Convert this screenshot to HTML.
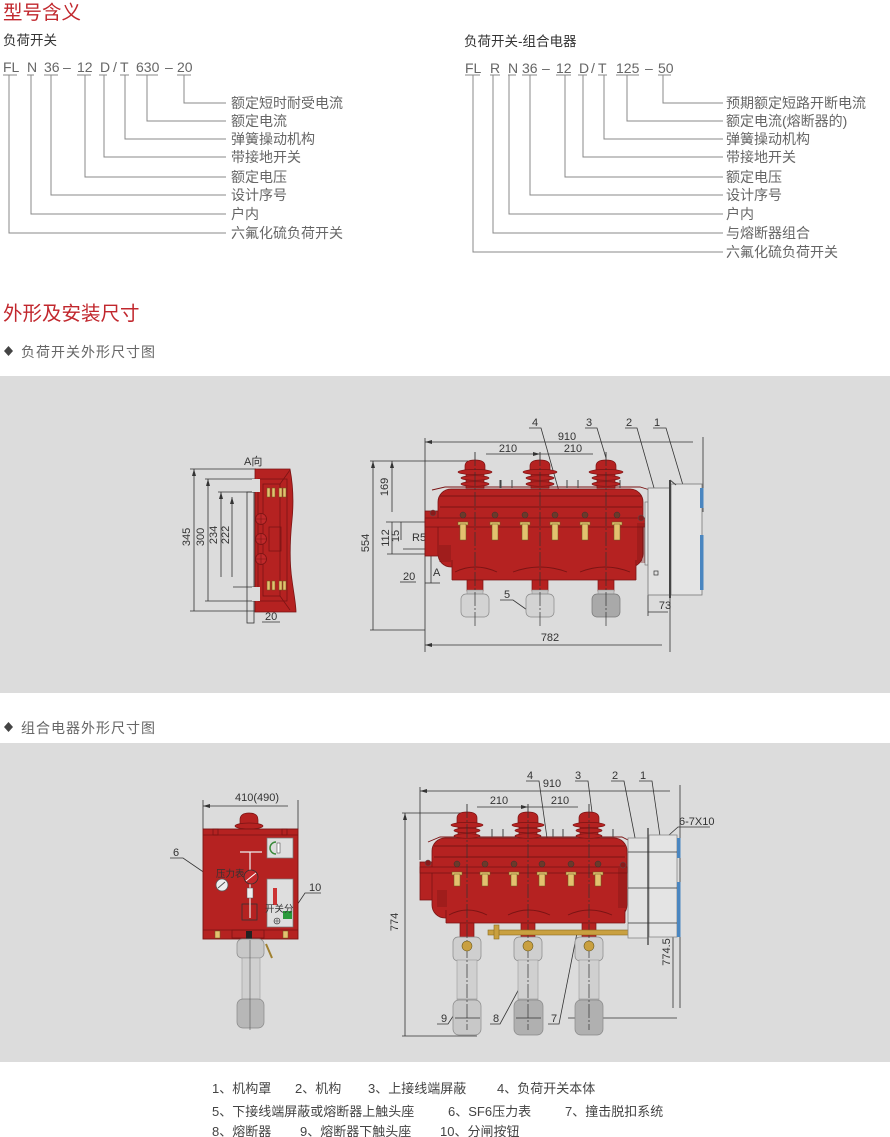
<!DOCTYPE html>
<html><head><meta charset="utf-8">
<style>
html,body{margin:0;padding:0;background:#fff;}
svg{display:block;}
text{font-family:"Liberation Sans","Noto Sans CJK SC",sans-serif;}
</style></head>
<body>
<svg width="890" height="1137" viewBox="0 0 890 1137" xmlns="http://www.w3.org/2000/svg">
<defs>
<marker id="ar" markerWidth="7" markerHeight="4" refX="7" refY="2" orient="auto-start-reverse" markerUnits="userSpaceOnUse"><path d="M0,0 L7,2 L0,4 z" fill="#333"/></marker>
</defs>

<!-- ===== TOP: 型号含义 ===== -->
<text x="3" y="19" font-size="19.5" fill="#c1272d">型号含义</text>
<text x="3" y="45" font-size="13.5" fill="#333">负荷开关</text>
<g font-size="14" fill="#666">
<text x="3" y="72">FL</text><text x="27" y="72">N</text><text x="44" y="72">36</text><text x="63" y="72">–</text>
<text x="77" y="72">12</text><text x="100" y="72">D</text><text x="113" y="72">/</text><text x="120" y="72">T</text>
<text x="136" y="72">630</text><text x="165" y="72">–</text><text x="177" y="72">20</text>
</g>
<g stroke="#888" stroke-width="1" fill="none">
<path d="M3,75H17M27,75H34M44,75H58M77,75H91M99,75H107M120,75H129M136,75H158M177,75H191"/>
<path d="M184,75V103H226M147,75V121H226M125,75V139H226M104,75V157H226M85,75V177H226M51,75V195H226M31,75V214H226M9,75V233H226"/>
</g>
<g font-size="14" fill="#666">
<text x="231" y="108">额定短时耐受电流</text>
<text x="231" y="126">额定电流</text>
<text x="231" y="144">弹簧操动机构</text>
<text x="231" y="162">带接地开关</text>
<text x="231" y="182">额定电压</text>
<text x="231" y="200">设计序号</text>
<text x="231" y="219">户内</text>
<text x="231" y="238">六氟化硫负荷开关</text>
</g>

<text x="464" y="46" font-size="13.5" fill="#333">负荷开关-组合电器</text>
<g font-size="14" fill="#666">
<text x="465" y="73">FL</text><text x="490" y="73">R</text><text x="508" y="73">N</text><text x="522" y="73">36</text>
<text x="542" y="73">–</text><text x="556" y="73">12</text><text x="579" y="73">D</text><text x="591" y="73">/</text>
<text x="598" y="73">T</text><text x="616" y="73">125</text><text x="645" y="73">–</text><text x="658" y="73">50</text>
</g>
<g stroke="#888" stroke-width="1" fill="none">
<path d="M465,75H480M490,75H500M508,75H516M522,75H537M556,75H571M578,75H587M598,75H607M616,75H639M658,75H671"/>
<path d="M663,75V103H723M627,75V121H723M604,75V139H723M583,75V157H723M565,75V177H723M530,75V195H723M509,75V214H723M493,75V233H723M473,75V252H723"/>
</g>
<g font-size="14" fill="#666">
<text x="726" y="108">预期额定短路开断电流</text>
<text x="726" y="126">额定电流(熔断器的)</text>
<text x="726" y="144">弹簧操动机构</text>
<text x="726" y="162">带接地开关</text>
<text x="726" y="182">额定电压</text>
<text x="726" y="200">设计序号</text>
<text x="726" y="219">户内</text>
<text x="726" y="238">与熔断器组合</text>
<text x="726" y="257">六氟化硫负荷开关</text>
</g>

<!-- ===== 外形及安装尺寸 ===== -->
<text x="3" y="320" font-size="19.5" fill="#c1272d">外形及安装尺寸</text>
<path d="M8.5,346 L13,351 L8.5,356 L4,351 Z" fill="#444"/>
<text x="21" y="357" font-size="14" fill="#666" letter-spacing="1">负荷开关外形尺寸图</text>

<rect x="0" y="376" width="890" height="317" fill="#dcdcdc"/>

<path d="M8.5,722 L13,727 L8.5,732 L4,727 Z" fill="#444"/>
<text x="21" y="733" font-size="14" fill="#666" letter-spacing="1">组合电器外形尺寸图</text>

<rect x="0" y="743" width="890" height="319" fill="#dcdcdc"/>

<!-- ===== PANEL 1: side view ===== -->
<text x="244" y="465" font-size="11" fill="#333">A向</text>
<g stroke="#333" stroke-width="0.8" fill="none">
<line x1="194" y1="469" x2="194" y2="611" marker-start="url(#ar)"/>
<line x1="190" y1="469" x2="256" y2="469"/>
<line x1="190" y1="611" x2="256" y2="611"/>
<line x1="208" y1="479" x2="208" y2="601" marker-start="url(#ar)"/>
<line x1="205" y1="479" x2="256" y2="479"/>
<line x1="205" y1="601" x2="256" y2="601"/>
<line x1="221" y1="492" x2="221" y2="577" marker-start="url(#ar)"/>
<line x1="218" y1="492" x2="258" y2="492"/>
<line x1="232" y1="497" x2="232" y2="577" marker-start="url(#ar)"/>
<line x1="233" y1="587" x2="258" y2="587"/>
<rect x="247" y="492" width="7" height="131" stroke="#333"/>
<line x1="262" y1="622" x2="280" y2="622"/>
</g>
<g font-size="11" fill="#333">
<text transform="translate(190,537) rotate(-90)" text-anchor="middle">345</text>
<text transform="translate(204,537) rotate(-90)" text-anchor="middle">300</text>
<text transform="translate(217,535) rotate(-90)" text-anchor="middle">234</text>
<text transform="translate(229,535) rotate(-90)" text-anchor="middle">222</text>
<text x="265" y="620">20</text>
</g>
<path d="M255,469 L290,469 C293,485 294,500 292,520 C290,540 289,560 292,580 C294,595 296,605 296,612 L255,612 Z" fill="#b52221" stroke="#7a1414" stroke-width="0.8"/>
<g stroke="#7a1414" stroke-width="0.8" fill="none">
<rect x="258" y="479" width="29" height="122"/>
<rect x="263" y="484" width="17" height="112"/>
<rect x="269" y="527" width="12" height="24"/>
<line x1="280" y1="484" x2="290" y2="470"/>
<line x1="280" y1="596" x2="290" y2="610"/>
</g>
<rect x="252" y="479" width="8" height="13" fill="#dcdcdc"/>
<rect x="252" y="587" width="8" height="14" fill="#dcdcdc"/>
<g fill="#e3c16f" stroke="#6b5a20" stroke-width="0.5">
<rect x="267" y="488" width="3" height="9"/><rect x="272" y="488" width="3" height="9"/><rect x="279" y="488" width="3" height="9"/><rect x="283" y="488" width="3" height="9"/>
<rect x="267" y="581" width="3" height="9"/><rect x="272" y="581" width="3" height="9"/><rect x="279" y="581" width="3" height="9"/><rect x="283" y="581" width="3" height="9"/>
</g>
<g fill="#c0282a" stroke="#7a1414" stroke-width="0.8">
<circle cx="261" cy="519" r="5.5"/><circle cx="261" cy="539" r="5.5"/><circle cx="261" cy="559" r="5.5"/>
</g>
<g stroke="#7a1414" stroke-width="0.6"><path d="M255,519H267M261,513V525M255,539H267M261,533V545M255,559H267M261,553V565"/></g>

<!-- ===== PANEL 1: main view ===== -->
<g stroke="#333" stroke-width="0.8" fill="none">
<line x1="425" y1="442" x2="693" y2="442" marker-start="url(#ar)"/>
<line x1="425" y1="438" x2="425" y2="652"/>
<line x1="703" y1="437" x2="703" y2="512"/>
<line x1="486" y1="454" x2="540" y2="454" marker-end="url(#ar)"/>
<line x1="593" y1="454" x2="540" y2="454"/>
<line x1="373" y1="461" x2="373" y2="630" marker-start="url(#ar)"/>
<line x1="370" y1="461" x2="468" y2="461"/>
<line x1="370" y1="630" x2="425" y2="630"/>
<line x1="392" y1="461" x2="392" y2="512" marker-start="url(#ar)"/>
<line x1="386" y1="522" x2="432" y2="522"/>
<line x1="392" y1="522" x2="392" y2="554"/>
<line x1="387" y1="554" x2="430" y2="554"/>
<line x1="401" y1="522" x2="401" y2="540"/>
<line x1="403" y1="549" x2="430" y2="549"/>
<line x1="400" y1="582" x2="416" y2="582"/>
<line x1="431" y1="555" x2="431" y2="583"/>
<line x1="425" y1="583" x2="440" y2="583"/>
<line x1="425" y1="645" x2="662" y2="645" marker-start="url(#ar)"/>
<line x1="670" y1="598" x2="670" y2="652"/>
<line x1="648" y1="595" x2="648" y2="616"/>
<line x1="648" y1="612" x2="668" y2="612"/>
<!-- leaders -->
<path d="M529,428H541L560,495"/>
<path d="M585,428H597L606,458"/>
<path d="M625,428H637L658,502"/>
<path d="M653,428H666L688,502"/>
<path d="M500,600H513L530,612"/>
</g>
<g font-size="11" fill="#333">
<text x="567" y="440" text-anchor="middle">910</text>
<text x="508" y="452" text-anchor="middle">210</text>
<text x="573" y="452" text-anchor="middle">210</text>
<text transform="translate(369,543) rotate(-90)" text-anchor="middle">554</text>
<text transform="translate(388,487) rotate(-90)" text-anchor="middle">169</text>
<text transform="translate(389,538) rotate(-90)" text-anchor="middle">112</text>
<text transform="translate(399,536) rotate(-90)" text-anchor="middle">15</text>
<text x="412" y="541">R5</text>
<text x="403" y="580">20</text>
<text x="433" y="576">A</text>
<text x="550" y="641" text-anchor="middle">782</text>
<text x="665" y="609" text-anchor="middle">73</text>
<text x="532" y="426">4</text>
<text x="586" y="426">3</text>
<text x="626" y="426">2</text>
<text x="654" y="426">1</text>
<text x="504" y="598">5</text>
</g>

<!-- tank panel 1 -->
<g stroke="#7a1414" stroke-width="0.8">
<rect x="425" y="511" width="15" height="45" fill="#b52221"/>
<rect x="438" y="489" width="205" height="78" rx="13" fill="#b52221"/>
<rect x="452" y="555" width="184" height="25" fill="#b52221" stroke="none"/>
<line x1="452" y1="580" x2="636" y2="580"/>
<line x1="452" y1="560" x2="452" y2="580"/>
<line x1="636" y1="560" x2="636" y2="580"/>
</g>
<g fill="none" stroke="#7a1414" stroke-width="0.9">
<path d="M455,572 Q475,562 497,572 M513,572 Q540,562 567,572 M580,572 Q605,562 630,572"/>
<path d="M432,490 L445,487 L640,487 L650,490"/>
<line x1="440" y1="496" x2="642" y2="496"/>
<line x1="440" y1="507" x2="642" y2="507"/>
</g>
<rect x="425" y="518" width="222" height="9" fill="#b52221" stroke="#7a1414" stroke-width="0.8"/>
<g stroke="#7a1414" stroke-width="0.7"><path d="M440,545V562M442,545V562M444,545V562M446,545V562M448,545V562M450,545V562M638,523V563M640,523V563M642,523V563M644,523V563M646,523V563"/></g>
<circle cx="433" cy="513" r="3" fill="#8a1a1a" stroke="#555" stroke-width="0.5"/>
<circle cx="641" cy="518" r="3" fill="#8a1a1a" stroke="#555" stroke-width="0.5"/>
<!-- spikes -->
<g stroke="#444" stroke-width="1"><path d="M500,480V488M512,480V488M567,480V488M578,480V488M620,480V488M501,480V488"/></g>
<!-- bushings p1 -->
<g id="b1" fill="#b52221" stroke="#7a1414" stroke-width="0.7">
<line x1="475" y1="452" x2="475" y2="461" stroke="#444"/>
<path d="M465,472 L465,466 Q465,460 475,460 Q485,460 485,466 L485,472 Z"/>
<rect x="466" y="472" width="18" height="16"/>
<ellipse cx="475" cy="472" rx="17" ry="2.6"/>
<ellipse cx="475" cy="478" rx="14" ry="2.3"/>
<ellipse cx="475" cy="484" rx="14" ry="2.3"/>
</g>
<use href="#b1" x="65"/>
<use href="#b1" x="131"/>
<!-- fuse holders p1 -->
<g id="fh1">
<circle cx="463" cy="515" r="3" fill="#6b3a2a" stroke="#333" stroke-width="0.5"/>
<rect x="458" y="522" width="10" height="3" fill="#e3c16f" stroke="#6b5a20" stroke-width="0.5"/>
<rect x="460" y="524" width="6" height="16" fill="#e3c16f" stroke="#6b5a20" stroke-width="0.5"/>
</g>
<use href="#fh1" x="32"/><use href="#fh1" x="62"/><use href="#fh1" x="92"/><use href="#fh1" x="122"/><use href="#fh1" x="154"/>
<!-- lower stems & contacts p1 -->
<g id="st1">
<rect x="467" y="580" width="16" height="11" fill="#b52221" stroke="#7a1414" stroke-width="0.7"/>
<rect x="467" y="590" width="16" height="5" fill="#c4c4c4" stroke="#888" stroke-width="0.5"/>
</g>
<use href="#st1" x="65"/><use href="#st1" x="131"/>
<rect x="461" y="594" width="28" height="23" rx="5" fill="#d3d3d3" stroke="#888" stroke-width="0.7"/>
<rect x="526" y="594" width="28" height="23" rx="5" fill="#d3d3d3" stroke="#888" stroke-width="0.7"/>
<rect x="592" y="594" width="28" height="23" rx="5" fill="#a9a9a9" stroke="#777" stroke-width="0.7"/>
<g stroke="#333" stroke-width="0.7" stroke-dasharray="14 2 2 2"><path d="M475,452V628M540,452V628M606,452V628"/></g>
<!-- cabinet p1 -->
<rect x="645" y="502" width="3" height="63" fill="#e4e4e4" stroke="#666" stroke-width="0.6"/>
<rect x="648" y="488" width="22" height="107" fill="#e2e2e2" stroke="#777" stroke-width="0.8"/>
<rect x="654" y="571" width="4" height="4" fill="none" stroke="#333" stroke-width="0.7"/>
<rect x="671" y="484" width="31" height="111" fill="#e4e4e4" stroke="#777" stroke-width="0.8"/>
<line x1="670" y1="480" x2="670" y2="598" stroke="#444" stroke-width="2"/>
<line x1="670" y1="480" x2="676" y2="485" stroke="#444" stroke-width="1"/>
<rect x="700" y="488" width="3.5" height="20" fill="#4a86c0"/>
<rect x="700" y="535" width="3.5" height="55" fill="#4a86c0"/>

<!-- ===== PANEL 2: left box ===== -->
<g stroke="#333" stroke-width="0.8" fill="none">
<line x1="203" y1="806" x2="288" y2="806" marker-start="url(#ar)"/>
<line x1="203" y1="800" x2="203" y2="829"/>
<line x1="298" y1="800" x2="298" y2="829"/>
<path d="M170,858H183L218,882"/>
<path d="M321,893H305L295,908"/>
</g>
<g font-size="11" fill="#333">
<text x="257" y="801" text-anchor="middle">410(490)</text>
<text x="173" y="856">6</text>
<text x="309" y="891">10</text>
</g>
<path d="M240,826 L240,820 Q240,813 249,813 Q258,813 258,820 L258,826 Z" fill="#b52221" stroke="#7a1414" stroke-width="0.7"/>
<ellipse cx="249" cy="826" rx="14" ry="3" fill="#b52221" stroke="#7a1414" stroke-width="0.7"/>
<rect x="203" y="829" width="95" height="110" fill="#b52221" stroke="#7a1414" stroke-width="0.9"/>
<g stroke="#7a1414" stroke-width="0.8" fill="none">
<line x1="203" y1="835" x2="298" y2="835"/>
<line x1="203" y1="930" x2="298" y2="930"/>
<rect x="213" y="829" width="5" height="6"/><rect x="282" y="829" width="5" height="6"/>
<rect x="242" y="904" width="15" height="16" stroke="#333"/>
<rect x="232" y="930" width="32" height="8"/>
</g>
<rect x="215" y="931" width="5" height="7" fill="#e3c16f" stroke="#6b5a20" stroke-width="0.5"/>
<rect x="283" y="931" width="5" height="7" fill="#e3c16f" stroke="#6b5a20" stroke-width="0.5"/>
<rect x="246" y="931" width="6" height="9" fill="#222"/>
<rect x="267" y="838" width="26" height="20" fill="#dedede" stroke="#777" stroke-width="0.7"/>
<path d="M276,842 A6,6 0 1,0 276,854" fill="none" stroke="#3a8a3a" stroke-width="1.5"/>
<rect x="277" y="843" width="3" height="10" fill="#fff" stroke="#333" stroke-width="0.5"/>
<rect x="267" y="879" width="26" height="48" fill="#dedede" stroke="#777" stroke-width="0.7"/>
<rect x="273" y="888" width="4" height="17" fill="#cc3333"/>
<rect x="283" y="911" width="9" height="8" fill="#2a9a3a"/>
<circle cx="277" cy="921" r="3" fill="none" stroke="#333" stroke-width="0.6"/>
<path d="M274,921H280M277,918V924" stroke="#333" stroke-width="0.5"/>
<g stroke="#eee" stroke-width="1.2"><path d="M250,852V918M240,852H262"/></g>
<rect x="247" y="888" width="6" height="10" fill="#eee" stroke="#555" stroke-width="0.5"/>
<circle cx="251" cy="877" r="7" fill="#c0282a" stroke="#333" stroke-width="0.8"/>
<line x1="246" y1="881" x2="256" y2="873" stroke="#fff" stroke-width="1"/>
<circle cx="222" cy="885" r="6" fill="#eee" stroke="#555" stroke-width="0.8"/>
<line x1="218" y1="888" x2="225" y2="882" stroke="#555" stroke-width="1"/>
<text x="216" y="877" font-size="9.5" fill="#333">压力表</text>
<text x="265" y="912" font-size="9.5" fill="#333">开关分</text>
<!-- left fuse -->
<rect x="237" y="939" width="27" height="19" rx="5" fill="#c8c8c8" stroke="#888" stroke-width="0.7"/>
<rect x="242" y="958" width="18" height="42" fill="#d0d0d0" stroke="#999" stroke-width="0.6"/>
<rect x="237" y="999" width="27" height="29" rx="6" fill="#b7b7b7" stroke="#888" stroke-width="0.7"/>
<line x1="250" y1="940" x2="250" y2="1030" stroke="#555" stroke-width="0.6"/>
<path d="M266,944 L272,958" stroke="#a08030" stroke-width="2"/>

<!-- ===== PANEL 2: main view ===== -->
<g stroke="#333" stroke-width="0.8" fill="none">
<line x1="420" y1="791" x2="670" y2="791" marker-start="url(#ar)"/>
<line x1="420" y1="787" x2="420" y2="860"/>
<line x1="680" y1="785" x2="680" y2="1008"/>
<line x1="477" y1="807" x2="528" y2="807" marker-end="url(#ar)"/>
<line x1="578" y1="807" x2="528" y2="807"/>
<line x1="405" y1="813" x2="405" y2="1036" marker-start="url(#ar)"/>
<line x1="402" y1="813" x2="467" y2="813"/>
<line x1="402" y1="1036" x2="477" y2="1036"/>
<line x1="628" y1="852" x2="677" y2="852"/>
<line x1="628" y1="888" x2="677" y2="888"/>
<line x1="628" y1="923" x2="677" y2="923"/>
<line x1="663" y1="852" x2="663" y2="888" marker-start="url(#ar)"/>
<line x1="663" y1="888" x2="663" y2="923" marker-end="url(#ar)"/>
<line x1="673" y1="853" x2="673" y2="1008" marker-start="url(#ar)"/>
<line x1="568" y1="1018" x2="677" y2="1018"/>
<!-- leaders -->
<path d="M526,781H539L547,838"/>
<path d="M575,781H588L592,812"/>
<path d="M611,781H624L637,848"/>
<path d="M639,781H652L660,836"/>
<path d="M710,827H678L650,852"/>
<path d="M437,1024H448L459,1007"/>
<path d="M490,1024H500L520,987"/>
<path d="M548,1024H559L577,933"/>
</g>
<g font-size="11" fill="#333">
<text x="552" y="787" text-anchor="middle">910</text>
<text x="499" y="804" text-anchor="middle">210</text>
<text x="560" y="804" text-anchor="middle">210</text>
<text transform="translate(398,922) rotate(-90)" text-anchor="middle">774</text>
<text x="527" y="779">4</text>
<text x="575" y="779">3</text>
<text x="612" y="779">2</text>
<text x="640" y="779">1</text>
<text x="679" y="825">6-7X10</text>
<text transform="translate(659,868) rotate(-90)" text-anchor="middle">160</text>
<text transform="translate(659,904) rotate(-90)" text-anchor="middle">160</text>
<text transform="translate(670,952) rotate(-90)" text-anchor="middle">774.5</text>
<text x="441" y="1022">9</text>
<text x="493" y="1022">8</text>
<text x="551" y="1022">7</text>
</g>
<!-- tank p2 -->
<g stroke="#7a1414" stroke-width="0.8">
<rect x="420" y="862" width="17" height="38" fill="#b52221"/>
<rect x="432" y="838" width="195" height="80" rx="13" fill="#b52221"/>
<rect x="446" y="905" width="179" height="18" fill="#b52221" stroke="none"/>
<line x1="446" y1="923" x2="625" y2="923"/>
<line x1="446" y1="910" x2="446" y2="923"/>
<line x1="625" y1="910" x2="625" y2="923"/>
</g>
<g fill="none" stroke="#7a1414" stroke-width="0.9">
<path d="M449,915 Q467,905 487,915 M508,915 Q528,905 550,915 M568,915 Q589,905 612,915"/>
<path d="M428,842 L440,837 L622,837 L632,842"/>
<line x1="434" y1="846" x2="625" y2="846"/>
<line x1="434" y1="857" x2="625" y2="857"/>
</g>
<rect x="420" y="867" width="207" height="6" fill="#b52221" stroke="#7a1414" stroke-width="0.8"/>
<g stroke="#7a1414" stroke-width="0.7"><path d="M438,890V907M440,890V907M442,890V907M444,890V907M446,890V907M619,868V908M621,868V908M623,868V908M625,868V908"/></g>
<circle cx="428" cy="863" r="3" fill="#8a1a1a" stroke="#555" stroke-width="0.5"/>
<circle cx="623" cy="865" r="3" fill="#8a1a1a" stroke="#555" stroke-width="0.5"/>
<g stroke="#444" stroke-width="1"><path d="M492,829V837M503,829V837M553,829V837M563,829V837M613,829V837"/></g>
<g id="b2" fill="#b52221" stroke="#7a1414" stroke-width="0.7">
<line x1="467" y1="804" x2="467" y2="813" stroke="#444"/>
<path d="M457,824 L457,818 Q457,812 467,812 Q477,812 477,818 L477,824 Z"/>
<rect x="458" y="824" width="18" height="14"/>
<ellipse cx="467" cy="825" rx="16" ry="2.6"/>
<ellipse cx="467" cy="830.5" rx="13" ry="2.3"/>
<ellipse cx="467" cy="836" rx="13" ry="2.3"/>
</g>
<use href="#b2" x="61"/>
<use href="#b2" x="122"/>
<g id="fh2">
<circle cx="457" cy="864" r="3" fill="#6b3a2a" stroke="#333" stroke-width="0.5"/>
<rect x="452" y="872" width="10" height="3" fill="#e3c16f" stroke="#6b5a20" stroke-width="0.5"/>
<rect x="454" y="874" width="6" height="12" fill="#e3c16f" stroke="#6b5a20" stroke-width="0.5"/>
</g>
<use href="#fh2" x="28"/><use href="#fh2" x="57"/><use href="#fh2" x="85"/><use href="#fh2" x="114"/><use href="#fh2" x="141"/>
<!-- fuses p2 -->
<g id="fu2">
<rect x="460" y="923" width="14" height="17" fill="#b52221" stroke="#7a1414" stroke-width="0.7"/>
<rect x="453" y="937" width="28" height="24" rx="5" fill="#cfcfcf" stroke="#888" stroke-width="0.7"/>
<rect x="457" y="960" width="20" height="40" fill="#d0d0d0" stroke="#999" stroke-width="0.6"/>
<line x1="457" y1="999" x2="477" y2="999" stroke="#888" stroke-width="0.6"/>
</g>
<use href="#fu2" x="61"/><use href="#fu2" x="122"/>
<rect x="453" y="1000" width="28" height="35" rx="6" fill="#c8c8c8" stroke="#888" stroke-width="0.7"/>
<rect x="514" y="1000" width="29" height="35" rx="6" fill="#b0b0b0" stroke="#888" stroke-width="0.7"/>
<rect x="575" y="1000" width="28" height="35" rx="6" fill="#b0b0b0" stroke="#888" stroke-width="0.7"/>
<g stroke="#333" stroke-width="0.7" stroke-dasharray="14 2 2 2"><path d="M467,804V1030M528,804V1030M589,804V1030"/></g>
<g stroke="#333" stroke-width="0.7"><path d="M455,1018H480M516,1018H541"/></g>
<rect x="488" y="930" width="141" height="5" fill="#c9a040" stroke="#8a6a20" stroke-width="0.6"/>
<rect x="494" y="925" width="5" height="14" fill="#c9a040" stroke="#8a6a20" stroke-width="0.6"/>
<g fill="#c9a040" stroke="#6b5a20" stroke-width="0.6">
<circle cx="467" cy="946" r="5"/><circle cx="528" cy="946" r="5"/><circle cx="589" cy="946" r="5"/>
</g>
<!-- cabinet p2 -->
<rect x="628" y="838" width="20" height="100" fill="#e2e2e2" stroke="#888" stroke-width="0.8"/>
<rect x="649" y="835" width="28" height="102" fill="#e4e4e4" stroke="#888" stroke-width="0.8"/>
<line x1="648" y1="828" x2="648" y2="945" stroke="#555" stroke-width="1.5"/>
<rect x="677" y="838" width="3.5" height="20" fill="#4a86c0"/>
<rect x="677" y="882" width="3.5" height="55" fill="#4a86c0"/>
<line x1="628" y1="852" x2="677" y2="852" stroke="#333" stroke-width="0.8"/>
<line x1="628" y1="888" x2="677" y2="888" stroke="#333" stroke-width="0.8"/>
<line x1="628" y1="923" x2="677" y2="923" stroke="#333" stroke-width="0.8"/>

<!-- ===== legend ===== -->
<g font-size="13" fill="#444">
<text x="212" y="1093">1、机构罩</text>
<text x="295" y="1093">2、机构</text>
<text x="368" y="1093">3、上接线端屏蔽</text>
<text x="497" y="1093">4、负荷开关本体</text>
<text x="212" y="1116">5、下接线端屏蔽或熔断器上触头座</text>
<text x="448" y="1116">6、SF6压力表</text>
<text x="565" y="1116">7、撞击脱扣系统</text>
<text x="212" y="1136">8、熔断器</text>
<text x="300" y="1136">9、熔断器下触头座</text>
<text x="440" y="1136">10、分闸按钮</text>
</g>
</svg>
</body></html>
